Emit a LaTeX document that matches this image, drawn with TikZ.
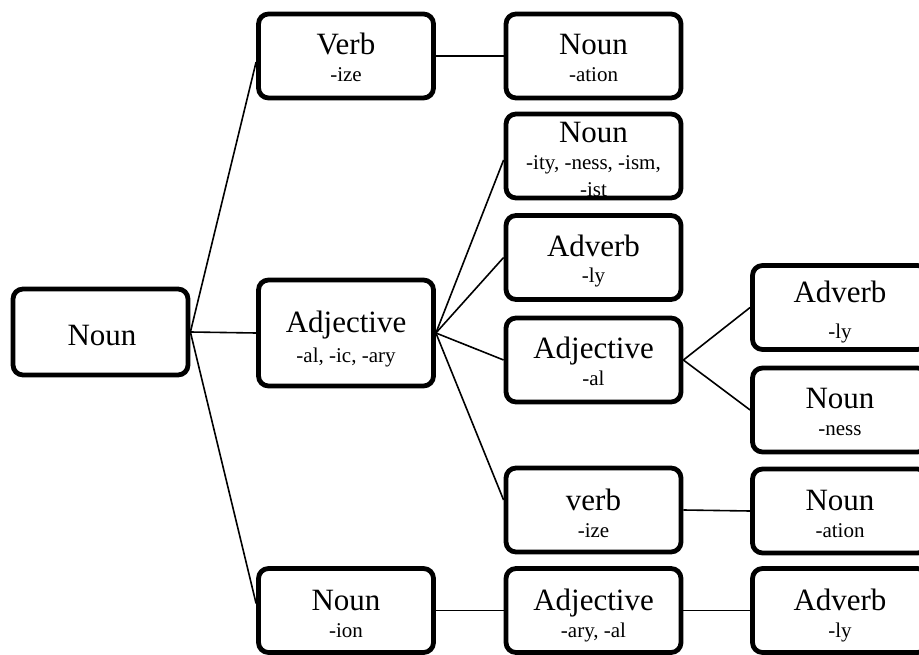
\documentclass[tikz,border=0pt]{standalone}
\usepackage{fontspec}
\setmainfont{Liberation Serif}
\begin{document}
\begin{tikzpicture}[x=1pt,y=-1pt,
  bx/.style={draw=black, line width=4.8pt, rounded corners=10pt, minimum width=175pt, minimum height=84pt, inner sep=0pt, fill=white},
  mt/.style={font=\fontsize{31}{31}\selectfont, anchor=base, inner sep=0pt},
  st/.style={font=\fontsize{21}{21}\selectfont, anchor=base, inner sep=0pt},
  ln/.style={draw=black, line width=1.6pt}]
\useasboundingbox (0,0) rectangle (919,655);
\begin{scope}
\clip (0,0) rectangle (919,655);
% boxes
\node[bx, minimum height=86pt] (root) at (100.5,332) {};
\node[bx] (v1) at (346,56) {};
\node[bx, minimum height=106pt] (a1) at (346,333) {};
\node[bx] (n1) at (346,610.5) {};
\node[bx] (na) at (593.5,56) {};
\node[bx] (n2) at (593.5,156) {};
\node[bx] (av2) at (593.5,257.5) {};
\node[bx] (aj2) at (593.5,360) {};
\node[bx] (vb2) at (593.5,510) {};
\node[bx] (aj3) at (593.5,610.5) {};
\node[bx] (av3) at (840,307.5) {};
\node[bx] (nn3) at (840,410) {};
\node[bx] (nt3) at (840,511) {};
\node[bx] (ad3) at (840,610.5) {};
\end{scope}
% connectors
\draw[ln] (root.east) -- ([yshift=-6pt]v1.west);
\draw[ln] (root.east) -- (a1.west);
\draw[ln] (root.east) -- ([yshift=7pt]n1.west);
\draw[ln] (v1.east) -- (na.west);
\draw[ln] (a1.east) -- ([yshift=-4pt]n2.west);
\draw[ln] (a1.east) -- (av2.west);
\draw[ln] (a1.east) -- (aj2.west);
\draw[ln] (a1.east) -- ([yshift=10pt]vb2.west);
\draw[ln] (aj2.east) -- (av3.west);
\draw[ln] (aj2.east) -- (nn3.west);
\draw[ln] (vb2.east) -- (nt3.west);
\draw[ln] (n1.east) -- (aj3.west);
\draw[ln] (aj3.east) -- (ad3.west);
% texts
\node[mt] (troot) at (102,345) {Noun};
\node[mt] (tv1) at (346,55) {Verb};
\node[st] (sv1) at (346,82) {-ize};
\node[mt] (ta1) at (346,333) {Adjective};
\node[st] (sa1) at (346,362) {-al, -ic, -ary};
\node[mt] (tn1) at (346,610) {Noun};
\node[st] (sn1) at (346,637) {-ion};
\node[mt] (tna) at (593.5,55) {Noun};
\node[st] (sna) at (593.5,82) {-ation};
\node[mt] (tn2) at (593.5,143) {Noun};
\node[st] (sn2) at (593.5,170) {-ity, -ness, -ism,};
\node[st] (sn2b) at (593.5,197) {-ist};
\node[mt] (tav2) at (593.5,257) {Adverb};
\node[st] (sav2) at (593.5,283) {-ly};
\node[mt] (taj2) at (593.5,358) {Adjective};
\node[st] (saj2) at (593.5,385) {-al};
\node[mt] (tvb2) at (593.5,510) {verb};
\node[st] (svb2) at (593.5,537) {-ize};
\node[mt] (taj3) at (593.5,610) {Adjective};
\node[st] (saj3) at (593.5,637) {-ary, -al};
\node[mt] (tav3) at (840,302) {Adverb};
\node[st] (sav3) at (840,338) {-ly};
\node[mt] (tnn3) at (840,408) {Noun};
\node[st] (snn3) at (840,435) {-ness};
\node[mt] (tnt3) at (840,510) {Noun};
\node[st] (snt3) at (840,537) {-ation};
\node[mt] (tad3) at (840,610) {Adverb};
\node[st] (sad3) at (840,637) {-ly};
\end{tikzpicture}
\end{document}
